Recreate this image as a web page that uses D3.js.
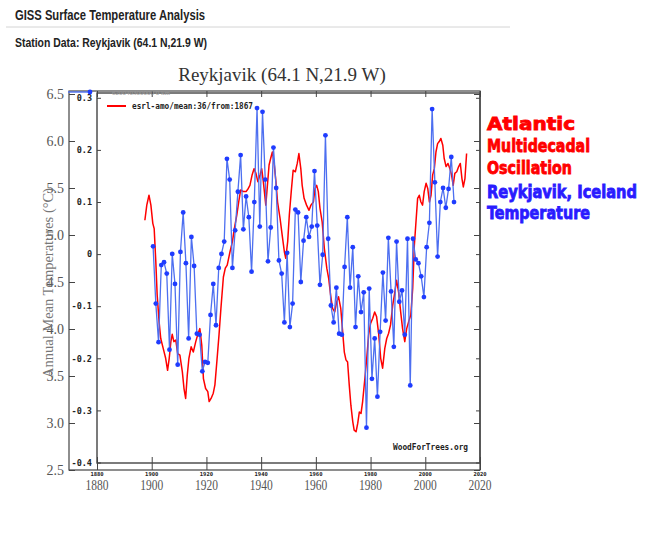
<!DOCTYPE html>
<html>
<head>
<meta charset="utf-8">
<title>Reykjavik</title>
<style>
  body { margin: 0; background: #fff; }
</style>
</head>
<body>
<script src="https://d3js.org/d3.v7.min.js"></script>
<script>
var w = 660;
var h = 538;

// GISS station series, annual means from 1900
var tempStartYear = 1900;
var reykjavikTemp = [
  4.88,4.27,3.86,4.68,4.71,4.59,3.78,4.80,4.48,3.62,
  4.82,5.24,4.70,3.90,4.98,4.67,3.95,3.94,3.55,3.65,
  3.64,4.15,4.48,4.04,4.65,4.80,4.93,5.81,5.59,4.65,
  5.05,5.46,5.85,5.06,5.41,5.19,4.61,5.35,6.35,5.09,
  6.31,5.59,4.72,5.08,5.93,5.50,4.73,4.59,4.07,4.81,
  4.02,4.27,5.27,5.24,4.50,4.94,5.19,4.98,5.09,5.68,
  5.10,4.47,4.79,6.06,4.96,4.25,4.07,4.44,3.95,3.94,
  4.66,5.19,4.44,4.87,4.02,4.56,4.18,4.39,2.95,4.43,
  3.47,3.90,3.28,3.97,4.60,4.09,4.97,4.40,3.81,4.93,
  4.29,4.41,3.94,4.96,3.40,4.96,4.74,4.70,4.56,4.34,
  4.87,5.13,6.34,5.56,4.77,5.35,5.50,5.29,5.49,5.83,
  5.35
];

// woodfortrees AMO, 36 month mean (as placed on the overlay)
var amoYears = [
  1897.5,1898.2,1899.0,1899.7,1900.4,1900.9,1901.5,1902.0,1902.7,1903.3,
  1904.2,1905.1,1905.8,1906.4,1907.0,1907.5,1908.1,1908.8,1909.5,1910.3,
  1911.2,1911.8,1912.4,1913.0,1913.6,1914.4,1915.2,1916.1,1916.8,1917.6,
  1918.3,1918.9,1919.7,1920.5,1921.0,1921.7,1922.5,1923.1,1923.8,1924.6,
  1925.3,1926.2,1926.9,1927.6,1928.6,1929.5,1930.2,1931.1,1931.8,1932.5,
  1933.5,1934.5,1935.3,1935.9,1936.7,1937.4,1938.1,1938.8,1939.6,1940.2,
  1940.8,1941.7,1942.2,1942.9,1943.5,1944.1,1944.7,1945.4,1946.0,1946.9,
  1947.7,1948.5,1949.0,1949.7,1950.3,1951.0,1951.7,1952.5,1953.2,1953.8,
  1954.5,1955.0,1955.7,1956.6,1957.5,
  1958.2,1959.1,1959.7,1960.3,1960.9,1961.5,1962.3,1963.1,1964.0,1964.7,
  1965.4,1966.1,1966.9,1967.6,1968.3,1969.1,1969.7,1970.4,1971.0,1971.6,
  1972.2,1972.8,1973.5,1974.0,1974.7,1975.3,1975.9,1976.5,1977.1,1977.8,
  1978.6,1979.3,1980.0,1980.8,1981.5,1982.2,1983.0,1983.7,1984.4,1985.2,
  1985.9,1986.6,1987.3,1988.1,1988.9,1989.5,1990.3,1991.0,1991.7,1992.5,
  1993.2,1993.9,1994.7,1995.4,1996.0,1996.6,1997.2,1997.8,1998.4,1999.0,
  1999.6,2000.3,2000.9,2001.5,2002.1,2002.7,2003.3,2003.9,2004.5,2005.1,
  2005.7,2006.4,2006.9,2007.6,2008.3,2009.0,2009.6,2010.2,2010.8,2011.5,
  2012.2,2012.8,2013.4,2013.9,2014.5,2015.1
];
var amoValues = [
  0.065,0.094,0.113,0.094,0.059,0.049,-0.015,-0.079,-0.130,-0.162,
  -0.181,-0.200,-0.223,-0.200,-0.168,-0.154,-0.168,-0.165,-0.191,-0.194,
  -0.226,-0.258,-0.277,-0.232,-0.200,-0.178,-0.188,-0.168,-0.155,-0.143,
  -0.175,-0.239,-0.258,-0.264,-0.283,-0.277,-0.267,-0.251,-0.207,-0.155,
  -0.104,-0.044,-0.027,-0.021,0.004,0.024,0.049,0.075,0.100,0.123,
  0.120,0.120,0.126,0.132,0.152,0.164,0.155,0.139,0.152,0.164,
  0.139,0.094,0.126,0.171,0.184,0.196,0.177,0.139,0.100,0.069,
  0.036,0.004,-0.008,0.024,0.075,0.120,0.161,0.158,0.174,0.193,
  0.164,0.132,0.107,0.094,0.084,
  0.094,0.100,0.126,0.132,0.120,0.088,0.062,0.011,-0.027,-0.047,
  -0.079,-0.104,-0.111,-0.092,-0.082,-0.104,-0.143,-0.188,-0.203,-0.207,
  -0.251,-0.290,-0.322,-0.338,-0.341,-0.325,-0.303,-0.306,-0.283,-0.245,
  -0.200,-0.155,-0.133,-0.123,-0.111,-0.120,-0.155,-0.200,-0.219,-0.181,
  -0.162,-0.152,-0.136,-0.098,-0.072,-0.050,-0.075,-0.111,-0.143,-0.168,
  -0.143,-0.130,-0.117,-0.066,0.017,0.062,0.107,0.113,0.100,0.094,
  0.120,0.136,0.126,0.100,0.113,0.152,0.164,0.196,0.212,0.216,
  0.222,0.209,0.184,0.168,0.174,0.164,0.152,0.132,0.155,0.158,
  0.168,0.174,0.145,0.129,0.145,0.193
];

var yearTicks = [1880, 1900, 1920, 1940, 1960, 1980, 2000, 2020];
var tempTicks = [2.5, 3.0, 3.5, 4.0, 4.5, 5.0, 5.5, 6.0, 6.5];
var amoTicks = [-0.4, -0.3, -0.2, -0.1, 0, 0.1, 0.2, 0.3];

var noteRed = ['Atlantic', 'Multidecadal', 'Oscillation'];
var noteBlue = ['Reykjavik, Iceland', 'Temperature'];

var svg = d3.select('body')
            .append('svg')
            .attr('width', w)
            .attr('height', h)
            .style('font-family', 'Liberation Serif, serif');

var x = d3.scaleLinear().domain([1880, 2020]).range([97, 480]);
var yTemp = d3.scaleLinear().domain([2.5, 6.5]).range([470, 94]);
var yAmo = d3.scaleLinear().domain([-0.4, 0.3]).range([462.5, 97.8]);

// page header
svg.append('text')
   .attr('x', 15).attr('y', 20)
   .attr('textLength', 190).attr('lengthAdjust', 'spacingAndGlyphs')
   .style('font-family', 'Liberation Sans, Arial, sans-serif')
   .style('font-weight', 'bold').style('font-size', '14px')
   .attr('fill', '#222')
   .text('GISS Surface Temperature Analysis');
svg.append('line')
   .attr('x1', 6).attr('x2', 510).attr('y1', 27).attr('y2', 27)
   .attr('stroke', '#d4d4d4');
svg.append('text')
   .attr('x', 15).attr('y', 47)
   .attr('textLength', 192).attr('lengthAdjust', 'spacingAndGlyphs')
   .style('font-family', 'Liberation Sans, Arial, sans-serif')
   .style('font-weight', 'bold').style('font-size', '12.5px')
   .attr('fill', '#222')
   .text('Station Data: Reykjavik (64.1 N,21.9 W)');

// chart title
svg.append('text')
   .attr('x', 282).attr('y', 81)
   .attr('text-anchor', 'middle')
   .style('font-size', '19px')
   .attr('fill', '#333')
   .text('Reykjavik (64.1 N,21.9 W)');

// frames
var frame = svg.append('g').attr('fill', 'none').attr('stroke', '#444');
frame.append('rect').attr('x', 69).attr('y', 91).attr('width', 411).attr('height', 379).attr('stroke-width', 1.2);
frame.append('rect').attr('x', 97).attr('y', 93).attr('width', 383).attr('height', 370).attr('stroke-width', 1.4);

function cleanAxis(g) {
  g.select('.domain').remove();
  g.selectAll('.tick line').attr('stroke', '#444');
}

// GISS left axis
svg.append('g')
   .attr('transform', 'translate(69,0)')
   .call(d3.axisLeft(yTemp).tickValues(tempTicks).tickSizeInner(-6).tickSizeOuter(0)
           .tickPadding(5).tickFormat(d3.format('.1f')))
   .call(cleanAxis)
   .call(g => g.selectAll('text')
               .style('font-family', 'Liberation Serif, serif')
               .style('font-size', '14px').attr('fill', '#555'));

// GISS right ticks
svg.append('g')
   .attr('transform', 'translate(480,0)')
   .call(d3.axisRight(yTemp).tickValues(tempTicks).tickSizeInner(-6).tickSizeOuter(0).tickFormat(''))
   .call(cleanAxis);

// woodfortrees left axis
svg.append('g')
   .attr('transform', 'translate(97,0)')
   .call(d3.axisLeft(yAmo).tickValues(amoTicks).tickSizeInner(-4).tickSizeOuter(0)
           .tickPadding(5).tickFormat(d => d === 0 ? '0' : d.toFixed(1)))
   .call(cleanAxis)
   .call(g => g.selectAll('text')
               .style('font-family', 'DejaVu Sans Mono, monospace')
               .style('font-weight', 'bold')
               .style('font-size', '8.5px').attr('fill', '#222'));

svg.append('g')
   .attr('transform', 'translate(480,0)')
   .call(d3.axisRight(yAmo).tickValues(amoTicks).tickSizeInner(-4).tickSizeOuter(0).tickFormat(''))
   .call(cleanAxis);

// year ticks, top and bottom
svg.append('g')
   .attr('transform', 'translate(0,91)')
   .call(d3.axisTop(x).tickValues(yearTicks).tickSizeInner(-6).tickSizeOuter(0).tickFormat(''))
   .call(cleanAxis);
svg.append('g')
   .attr('transform', 'translate(0,470)')
   .call(d3.axisBottom(x).tickValues(yearTicks).tickSizeInner(-13).tickSizeOuter(0).tickFormat(''))
   .call(cleanAxis);

// small woodfortrees year labels
svg.append('g').selectAll('text')
   .data(yearTicks).enter().append('text')
   .attr('x', d => x(d)).attr('y', 475.5)
   .attr('text-anchor', 'middle')
   .style('font-family', 'DejaVu Sans Mono, monospace')
   .style('font-weight', 'bold').style('font-size', '5.5px')
   .attr('fill', '#222')
   .text(d => d);

// big year labels
svg.append('g').selectAll('text')
   .data(yearTicks).enter().append('text')
   .attr('x', d => x(d)).attr('y', 490)
   .attr('text-anchor', 'middle')
   .attr('textLength', 23).attr('lengthAdjust', 'spacingAndGlyphs')
   .style('font-size', '15px')
   .attr('fill', '#555')
   .text(d => d);

// y axis title
svg.append('text')
   .attr('transform', 'translate(53,283) rotate(-90)')
   .attr('text-anchor', 'middle')
   .attr('textLength', 190).attr('lengthAdjust', 'spacingAndGlyphs')
   .style('font-size', '14px')
   .attr('fill', '#777')
   .text('Annual Mean Temperatures (\u00B0C)');

// legends
svg.append('line')
   .attr('x1', 68).attr('x2', 90).attr('y1', 92).attr('y2', 92)
   .attr('stroke', '#4d6ff0').attr('stroke-width', 1.4);
svg.append('circle')
   .attr('cx', 90).attr('cy', 92).attr('r', 2.4)
   .attr('fill', '#1f3cff');
svg.append('text')
   .attr('x', 112).attr('y', 95)
   .style('font-size', '7px')
   .attr('fill', '#999')
   .text('620040300000 0 km');

svg.append('line')
   .attr('x1', 107).attr('x2', 126).attr('y1', 106).attr('y2', 106)
   .attr('stroke', '#ff0000').attr('stroke-width', 2);
svg.append('text')
   .attr('x', 132).attr('y', 109)
   .attr('textLength', 121).attr('lengthAdjust', 'spacingAndGlyphs')
   .style('font-family', 'DejaVu Sans Mono, monospace')
   .style('font-weight', 'bold').style('font-size', '8px')
   .attr('fill', '#222')
   .text('esrl-amo/mean:36/from:1867');

svg.append('text')
   .attr('x', 393).attr('y', 450)
   .attr('textLength', 75).attr('lengthAdjust', 'spacingAndGlyphs')
   .style('font-family', 'DejaVu Sans Mono, monospace')
   .style('font-weight', 'bold').style('font-size', '8px')
   .attr('fill', '#222')
   .text('WoodForTrees.org');

// AMO line
var amoData = amoYears.map((yr, i) => ({year: yr, v: amoValues[i]}));
svg.append('path')
   .datum(amoData)
   .attr('fill', 'none')
   .attr('stroke', '#ff0000')
   .attr('stroke-width', 1.5)
   .attr('stroke-linejoin', 'round')
   .attr('d', d3.line().x(d => x(d.year)).y(d => yAmo(d.v)));

// Reykjavik line and points
var tempData = reykjavikTemp.map((t, i) => ({year: tempStartYear + i + 0.5, t: t}));
svg.append('path')
   .datum(tempData)
   .attr('fill', 'none')
   .attr('stroke', '#4d6ff0')
   .attr('stroke-width', 1.3)
   .attr('d', d3.line().x(d => x(d.year)).y(d => yTemp(d.t)));

svg.append('g').selectAll('circle')
   .data(tempData).enter().append('circle')
   .attr('cx', d => x(d.year))
   .attr('cy', d => yTemp(d.t))
   .attr('r', 2.4)
   .attr('fill', '#1f3cff');

// annotations on the right
var noteFont = 'DejaVu Sans Condensed, Liberation Sans Narrow, sans-serif';
var redLines = [{t: noteRed[0], y: 130, len: 88}, {t: noteRed[1], y: 152, len: 103}, {t: noteRed[2], y: 174, len: 85}];
var blueLines = [{t: noteBlue[0], y: 198, len: 150}, {t: noteBlue[1], y: 219, len: 103}];

function noteText(sel, color) {
  sel.attr('transform', d => 'translate(487,' + d.y + ') scale(1,1.15)')
     .attr('x', 0).attr('y', 0)
     .attr('textLength', d => d.len).attr('lengthAdjust', 'spacingAndGlyphs')
     .style('font-family', noteFont).style('font-weight', 'bold').style('font-size', '16px')
     .attr('fill', color).attr('stroke', color).attr('stroke-width', 0.7)
     .text(d => d.t);
}

svg.append('g').selectAll('text')
   .data(redLines).enter().append('text')
   .call(noteText, '#ff0000');

svg.append('g').selectAll('text')
   .data(blueLines).enter().append('text')
   .call(noteText, '#2a1bff');
</script>
</body>
</html>
